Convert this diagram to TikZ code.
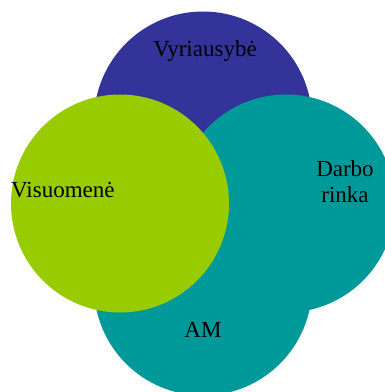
\documentclass[tikz,border=0pt]{standalone}
\usepackage{fontspec}
\setmainfont{Liberation Serif}
\definecolor{cblue}{HTML}{333399}
\definecolor{cteal}{HTML}{009999}
\definecolor{cgreen}{HTML}{99CC00}
\begin{document}
\begin{tikzpicture}[x=1pt,y=1pt,
  disc/.style={circle,inner sep=0pt,minimum size=218pt,draw=none},
  lbl/.style={font=\fontsize{23}{26}\selectfont,text=black,inner sep=0pt,anchor=base,align=center}]
\useasboundingbox (0,0) rectangle (385,-392);
\clip (0,0) rectangle (385,-392);
\fill[white] (0,0) rectangle (385,-392);
\node[disc,fill=cblue] (gov) at (203,-120.5) {};
\node[disc,fill=cteal] (labour) at (286,-203.5) {};
\node[disc,fill=cteal] (am) at (203,-286.5) {};
\node[disc,fill=cgreen] (soc) at (120,-203.5) {};
\node[lbl] (tgov) at (205,-56) {Vyriausybė};
\node[lbl,anchor=base west] (tsoc) at (11,-197) {Visuomenė};
\node[lbl,anchor=base] (tlab) at (345,-202) {Darbo\\rinka};
\node[lbl] (tam) at (203,-337) {AM};
\end{tikzpicture}
\end{document}
